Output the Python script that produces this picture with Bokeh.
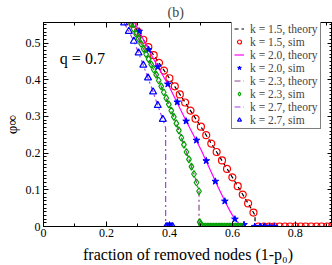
from bokeh.plotting import figure
from bokeh.models import (Range1d, LinearAxis, Label, Legend, LegendItem,
                          SingleIntervalTicker, CustomJSTickFormatter)
from bokeh.embed import file_html
from bokeh.resources import INLINE

FONT = "Liberation Serif"

# ---------------- data ----------------
# k = 1.5
th15_x = [0.280, 0.300, 0.350, 0.400, 0.450, 0.500, 0.550, 0.600, 0.650, 0.667, 0.672, 0.672, 0.920]
th15_y = [0.556, 0.531, 0.467, 0.404, 0.338, 0.272, 0.203, 0.134, 0.063, 0.038, 0.030, 0.000, 0.000]
sim15_x = [0.283, 0.300, 0.317, 0.333, 0.350, 0.367, 0.383, 0.400, 0.417, 0.433, 0.450, 0.467,
           0.483, 0.500, 0.517, 0.533, 0.550, 0.567, 0.583, 0.600, 0.617, 0.633, 0.650, 0.667,
           0.683, 0.700, 0.717, 0.733, 0.750, 0.767, 0.783, 0.800, 0.817, 0.833, 0.850, 0.867,
           0.883, 0.900, 0.917]
sim15_y = [0.552, 0.531, 0.509, 0.489, 0.467, 0.446, 0.425, 0.404, 0.382, 0.360, 0.338, 0.316,
           0.294, 0.272, 0.249, 0.226, 0.203, 0.180, 0.157, 0.134, 0.110, 0.087, 0.063, 0.038,
           0, 0, 0, 0, 0, 0, 0, 0, 0, 0, 0, 0, 0, 0, 0]

# k = 2.0
th20_x = [0.289, 0.300, 0.350, 0.400, 0.450, 0.500, 0.550, 0.575, 0.590, 0.600, 0.610, 0.620, 0.630, 0.640, 0.920]
th20_y = [0.556, 0.538, 0.456, 0.380, 0.293, 0.210, 0.116, 0.071, 0.046, 0.031, 0.018, 0.009, 0.003, 0.000, 0.000]
sim20_x = [0.304, 0.334, 0.363, 0.395, 0.425, 0.453, 0.486, 0.517, 0.546, 0.576, 0.608, 0.637,
           0.671, 0.688, 0.703, 0.718, 0.733]
sim20_y = [0.532, 0.482, 0.435, 0.388, 0.339, 0.287, 0.235, 0.179, 0.123, 0.069, 0.020, 0.005,
           0, 0, 0, 0, 0]

# k = 2.3
th23_x = [0.276, 0.300, 0.330, 0.360, 0.390, 0.420, 0.450, 0.470, 0.480, 0.494, 0.494, 0.920]
th23_y = [0.556, 0.515, 0.463, 0.410, 0.350, 0.286, 0.213, 0.163, 0.138, 0.096, 0.000, 0.000]
sim23_x = [0.278, 0.286, 0.294, 0.302, 0.310, 0.318, 0.326, 0.334, 0.342, 0.350, 0.358, 0.366,
           0.374, 0.382, 0.390, 0.398, 0.406, 0.414, 0.422, 0.430, 0.438, 0.446, 0.454, 0.462,
           0.470, 0.478, 0.486, 0.494, 0.496, 0.500,
           0.505, 0.510, 0.515, 0.520, 0.525, 0.530, 0.535, 0.540, 0.545, 0.550, 0.555, 0.560,
           0.565, 0.570, 0.575, 0.580, 0.585, 0.590, 0.595, 0.600, 0.605, 0.610, 0.615, 0.620,
           0.625, 0.630]
sim23_y = [0.553, 0.539, 0.525, 0.512, 0.498, 0.484, 0.470, 0.456, 0.442, 0.428, 0.414, 0.398,
           0.382, 0.366, 0.350, 0.333, 0.316, 0.299, 0.281, 0.262, 0.242, 0.223, 0.203, 0.183,
           0.163, 0.143, 0.120, 0.096, 0.012, 0.006,
           0, 0, 0, 0, 0, 0, 0, 0, 0, 0, 0, 0,
           0, 0, 0, 0, 0, 0, 0, 0, 0, 0, 0, 0,
           0, 0]

# k = 2.7
th27_x = [0.255, 0.271, 0.287, 0.302, 0.317, 0.332, 0.348, 0.363, 0.379, 0.386, 0.388, 0.388, 0.920]
th27_y = [0.557, 0.532, 0.505, 0.473, 0.440, 0.405, 0.367, 0.330, 0.292, 0.275, 0.268, 0.000, 0.000]
sim27_x = [0.256, 0.271, 0.287, 0.302, 0.317, 0.332, 0.348, 0.363, 0.379,
           0.390, 0.395, 0.400, 0.405, 0.410]
sim27_y = [0.555, 0.532, 0.505, 0.473, 0.440, 0.405, 0.367, 0.330, 0.292,
           0, 0, 0, 0, 0]

legend_labels = ["k = 1.5, theory", "k = 1.5, sim", "k = 2.0, theory", "k = 2.0, sim",
                 "k = 2.3, theory", "k = 2.3, sim", "k = 2.7, theory", "k = 2.7, sim"]

# ---------------- figure ----------------
p = figure(width=332, height=265, output_backend="svg", toolbar_location=None,
           x_range=Range1d(0, 0.918), y_range=Range1d(0, 0.556),
           min_border_left=42, min_border_right=0, min_border_top=22, min_border_bottom=36)
p.xgrid.visible = False
p.ygrid.visible = False
p.outline_line_color = "black"
p.background_fill_color = "white"
p.border_fill_color = "white"

p.title.text = "(b)"
p.title.text_font = FONT
p.title.text_font_size = "14px"
p.title.text_font_style = "normal"
p.title.align = "left"
p.title.offset = 124
p.title.standoff = 5

p.xaxis.ticker = SingleIntervalTicker(interval=0.2, num_minor_ticks=2)
p.yaxis.ticker = SingleIntervalTicker(interval=0.1, num_minor_ticks=10)

blank = CustomJSTickFormatter(code="return ''")


def style_axis(ax, labels=True):
    ax.major_tick_in = 5
    ax.major_tick_out = 0
    ax.minor_tick_in = 3
    ax.minor_tick_out = 0
    ax.axis_line_color = "black"
    ax.major_tick_line_color = "black"
    ax.minor_tick_line_color = "black"
    ax.major_label_text_font = FONT
    ax.major_label_text_font_size = "12px"
    ax.major_label_text_color = "black"
    ax.major_label_standoff = 3
    if not labels:
        ax.formatter = blank
        ax.major_label_text_font_size = "1px"
        ax.major_label_standoff = 0


style_axis(p.xaxis[0])
style_axis(p.yaxis[0])
p.xaxis[0].major_label_standoff = 2
p.xaxis.axis_label = "fraction of removed nodes (1-p\u2080)"
p.xaxis.axis_label_text_font = FONT
p.xaxis.axis_label_text_font_size = "16px"
p.xaxis.axis_label_text_font_style = "normal"
p.xaxis.axis_label_text_color = "black"
p.xaxis.axis_label_standoff = 6

p.yaxis.axis_label = "\u03c6\u221e"
p.yaxis.axis_label_text_font = FONT
p.yaxis.axis_label_text_font_size = "15px"
p.yaxis.axis_label_text_font_style = "normal"
p.yaxis.axis_label_text_color = "black"
p.yaxis.axis_label_standoff = 3

top = LinearAxis(ticker=SingleIntervalTicker(interval=0.2, num_minor_ticks=2))
style_axis(top, labels=False)
p.add_layout(top, "above")
right = LinearAxis(ticker=SingleIntervalTicker(interval=0.1, num_minor_ticks=10))
style_axis(right, labels=False)
p.add_layout(right, "right")

# ---------------- glyphs ----------------
dash_dot = "6 3 2 3"
r_th15 = p.line(th15_x, th15_y, line_color="black", line_width=1.2, line_dash="4 3")
r_sim15 = p.scatter(sim15_x, sim15_y, marker="circle", size=7, line_color="red",
                    fill_color=None, line_width=1.2)
r_th20 = p.line(th20_x, th20_y, line_color="#ff00ff", line_width=1.2)
r_sim20 = p.scatter(sim20_x, sim20_y, marker="star", size=7, line_color="blue",
                    fill_color="blue", line_width=1)
r_th23 = p.line(th23_x, th23_y, line_color="#8e4a8e", line_width=1.2, line_dash=dash_dot)
r_sim23 = p.scatter(sim23_x, sim23_y, marker="diamond", size=7, line_color="#00a000",
                    fill_color=None, line_width=1.2)
r_th27 = p.line(th27_x, th27_y, line_color="#a040e0", line_width=1.2, line_dash=dash_dot)
r_sim27 = p.scatter(sim27_x, sim27_y, marker="triangle", size=7, line_color="blue",
                    fill_color=None, line_width=1.2)

renderers = [r_th15, r_sim15, r_th20, r_sim20, r_th23, r_sim23, r_th27, r_sim27]
items = [LegendItem(label=l, renderers=[r]) for l, r in zip(legend_labels, renderers)]
legend = Legend(items=items, location=(188, 97), orientation="vertical",
                label_text_font=FONT, label_text_font_size="11.5px",
                label_height=13, glyph_height=13, glyph_width=10, label_standoff=6,
                spacing=0, padding=2, margin=0,
                border_line_color="black", border_line_width=1,
                background_fill_color="white", background_fill_alpha=1)
p.add_layout(legend, "center")

# ---------------- text ----------------
p.add_layout(Label(x=0.052, y=0.458, text="q = 0.7", text_font=FONT,
                   text_font_size="16px", text_baseline="alphabetic", text_color="black"))

open("out.html", "w").write(file_html(p, INLINE))
